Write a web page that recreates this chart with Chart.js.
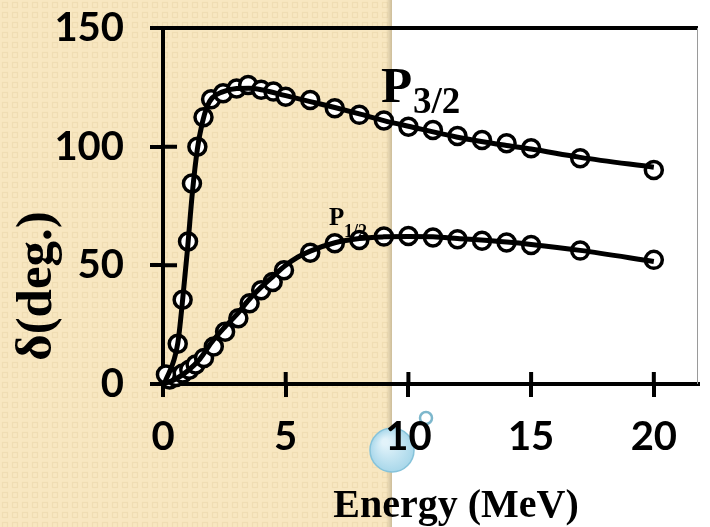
<!DOCTYPE html>
<html>
<head>
<meta charset="utf-8">
<script src="https://cdn.jsdelivr.net/npm/chart.js@4.4.1/dist/chart.umd.min.js"></script>
<style>
html, body { margin: 0; padding: 0; background: #fff; }
</style>
</head>
<body>
<canvas id="phase" width="710" height="527"></canvas>
<script>
// measured phase shifts (circles)
const p32Energy = [0.12, 0.6, 0.8, 1.02, 1.18, 1.4, 1.65, 1.96, 2.45, 3.0, 3.47, 4.0, 4.5, 5.0, 6, 7, 8, 9, 10, 11, 12, 13, 14, 15, 17, 20];
const p32Phase  = [4, 17, 35.5, 60, 84.5, 100, 112.4, 120, 122.5, 124.5, 126, 124, 123.2, 121, 119.7, 116.2, 113.4, 111, 108.4, 107, 104.5, 102.8, 101.4, 99.3, 95.1, 90.2];
const p12Energy = [0.27, 0.53, 0.8, 1.07, 1.33, 1.67, 2.07, 2.53, 3.07, 3.53, 4.0, 4.47, 4.93, 6, 7, 8, 9, 10, 11, 12, 13, 14, 15, 17, 20];
const p12Phase  = [1.9, 3, 4.4, 6, 8.2, 11, 15.8, 22, 27.7, 34, 39.5, 43, 47.9, 55.3, 59.3, 60.7, 62.1, 62.4, 61.7, 61, 60.4, 59.6, 58.6, 56.2, 52.3];

// fitted curves (solid lines)
const p32FitEnergy = [0.05, 0.6, 0.8, 1.0, 1.2, 1.4, 1.6, 1.8, 2.0, 2.4, 3.0, 3.5, 4.0, 5, 6, 7, 8, 9, 10, 12, 14, 15, 17, 20];
const p32FitPhase  = [0, 17, 35.5, 57, 81, 99, 110, 117, 120.5, 123, 124.5, 124.6, 124, 121.5, 119, 116.5, 113.8, 111, 108.6, 104, 100.5, 99, 95.5, 91.3];
const p12FitEnergy = [0, 0.5, 1, 1.5, 2, 2.5, 3, 3.5, 4, 4.5, 5, 5.5, 6, 7, 8, 9, 10, 11, 12, 14, 15, 17, 20];
const p12FitPhase  = [0, 2, 5.5, 10.5, 17.8, 23.8, 29.2, 35.5, 40.8, 45.5, 50, 53.5, 56, 59.5, 61.3, 62, 62.2, 62, 61.3, 59.8, 58.8, 56.3, 51.6];

const xTicks = [0, 5, 10, 15, 20];
const yTicks = [0, 50, 100, 150];

function pairs(xs, ys) {
    return xs.map((x, i) => ({x: x, y: ys[i]}));
}

const tickFont = {family: "Lato", weight: "bold", size: 40};
const serif = "'Liberation Serif', 'Times New Roman', serif";

const backdrop = {
    id: "backdrop",
    beforeDraw(chart) {
        const ctx = chart.ctx;
        ctx.save();
        ctx.fillStyle = "#fff";
        ctx.fillRect(0, 0, 710, 527);
        // beige slide panel with faint square pattern
        const tile = document.createElement("canvas");
        tile.width = 10; tile.height = 10;
        const tc = tile.getContext("2d");
        tc.fillStyle = "#f8e7c1";
        tc.fillRect(0, 0, 10, 10);
        tc.strokeStyle = "#f0ddb3";
        tc.lineWidth = 1.2;
        tc.strokeRect(2.5, 2.5, 5, 5);
        ctx.fillStyle = ctx.createPattern(tile, "repeat");
        ctx.fillRect(0, 0, 392, 527);
        const g = ctx.createLinearGradient(386, 0, 392, 0);
        g.addColorStop(0, "rgba(200,185,150,0)");
        g.addColorStop(1, "rgba(200,185,150,0.9)");
        ctx.fillStyle = g;
        ctx.fillRect(386, 0, 6, 527);
        // bubble decoration
        const rg = ctx.createRadialGradient(385, 442, 3, 392, 450, 22);
        rg.addColorStop(0, "#e2f3fa");
        rg.addColorStop(1, "#a8d7ea");
        ctx.beginPath();
        ctx.arc(392, 450, 22, 0, Math.PI * 2);
        ctx.fillStyle = rg;
        ctx.fill();
        ctx.strokeStyle = "#86c3da";
        ctx.lineWidth = 1.5;
        ctx.stroke();
        ctx.beginPath();
        ctx.arc(426, 418, 6, 0, Math.PI * 2);
        ctx.strokeStyle = "#7db7cc";
        ctx.lineWidth = 2.5;
        ctx.stroke();
        ctx.restore();
    }
};

const frame = {
    id: "frame",
    afterDraw(chart) {
        const ctx = chart.ctx;
        const a = chart.chartArea;
        const xs = chart.scales.x, ys = chart.scales.y;
        ctx.save();
        ctx.strokeStyle = "#000";
        ctx.lineWidth = 4;
        ctx.beginPath();
        ctx.moveTo(a.left, a.top);
        ctx.lineTo(a.right, a.top);
        // inner halves of the crossing ticks
        xTicks.slice(1).forEach(v => {
            const px = xs.getPixelForValue(v);
            ctx.moveTo(px, a.bottom);
            ctx.lineTo(px, a.bottom - 12);
        });
        yTicks.slice(1, 3).forEach(v => {
            const py = ys.getPixelForValue(v);
            ctx.moveTo(a.left, py);
            ctx.lineTo(a.left + 14, py);
        });
        ctx.stroke();
        ctx.strokeStyle = "#9a9a9a";
        ctx.lineWidth = 1;
        ctx.beginPath();
        ctx.moveTo(a.right - 0.5, a.top);
        ctx.lineTo(a.right - 0.5, a.bottom);
        ctx.stroke();

        ctx.fillStyle = "#000";
        ctx.textBaseline = "alphabetic";
        // axis titles
        ctx.textAlign = "center";
        ctx.font = "bold 40px " + serif;
        ctx.fillText("Energy (MeV)", 456, 517);
        ctx.save();
        ctx.translate(51, 286);
        ctx.rotate(-Math.PI / 2);
        ctx.font = "bold 51px " + serif;
        ctx.fillText("δ(deg.)", 0, 0);
        ctx.restore();
        // curve labels
        ctx.textAlign = "left";
        let lx = xs.getPixelForValue(8.88), ly = ys.getPixelForValue(118.7);
        ctx.font = "bold 51px " + serif;
        ctx.fillText("P", lx, ly);
        ctx.font = "bold 37px " + serif;
        ctx.fillText("3/2", lx + 32, ly + 11);
        lx = xs.getPixelForValue(6.76); ly = ys.getPixelForValue(67);
        ctx.font = "bold 25px " + serif;
        ctx.fillText("P", lx, ly);
        ctx.font = "bold 18px " + serif;
        ctx.fillText("1/2", lx + 15, ly + 12);
        ctx.restore();
    }
};

const lineStyle = {
    type: "line",
    showLine: true,
    borderColor: "#000",
    borderWidth: 5,
    pointRadius: 0,
    fill: false,
    cubicInterpolationMode: "monotone",
    clip: false
};
const pointStyle = {
    type: "scatter",
    showLine: false,
    pointRadius: 8.5,
    pointBorderWidth: 3.5,
    pointBackgroundColor: "#fff",
    pointBorderColor: "#000",
    clip: false
};

new Chart(document.getElementById("phase").getContext("2d"), {
    type: "scatter",
    data: {
        datasets: [
            Object.assign({label: "P3/2 fit", data: pairs(p32FitEnergy, p32FitPhase)}, lineStyle),
            Object.assign({label: "P1/2 fit", data: pairs(p12FitEnergy, p12FitPhase)}, lineStyle),
            Object.assign({label: "P3/2", data: pairs(p32Energy, p32Phase)}, pointStyle),
            Object.assign({label: "P1/2", data: pairs(p12Energy, p12Phase)}, pointStyle)
        ]
    },
    options: {
        responsive: false,
        animation: false,
        layout: {padding: {left: 0, right: 2, top: 28, bottom: 0}},
        plugins: {
            legend: {display: false},
            tooltip: {enabled: false}
        },
        scales: {
            x: {
                type: "linear",
                min: 0,
                max: 21.8,
                afterFit: s => { s.height = 143; },
                afterBuildTicks: s => { s.ticks = xTicks.map(v => ({value: v})); },
                ticks: {font: tickFont, color: "#000", padding: 16, maxRotation: 0, autoSkip: false},
                grid: {drawOnChartArea: false, color: "#000", lineWidth: 4, tickLength: 13},
                border: {color: "#000", width: 4}
            },
            y: {
                min: 0,
                max: 150,
                afterFit: s => { s.width = 163; s.paddingTop = 0; s.paddingBottom = 0; },
                afterBuildTicks: s => { s.ticks = yTicks.map(v => ({value: v})); },
                ticks: {font: tickFont, color: "#000", padding: 26},
                grid: {drawOnChartArea: false, color: "#000", lineWidth: 4, tickLength: 13},
                border: {color: "#000", width: 4}
            }
        }
    },
    plugins: [backdrop, frame]
});
</script>
</body>
</html>
